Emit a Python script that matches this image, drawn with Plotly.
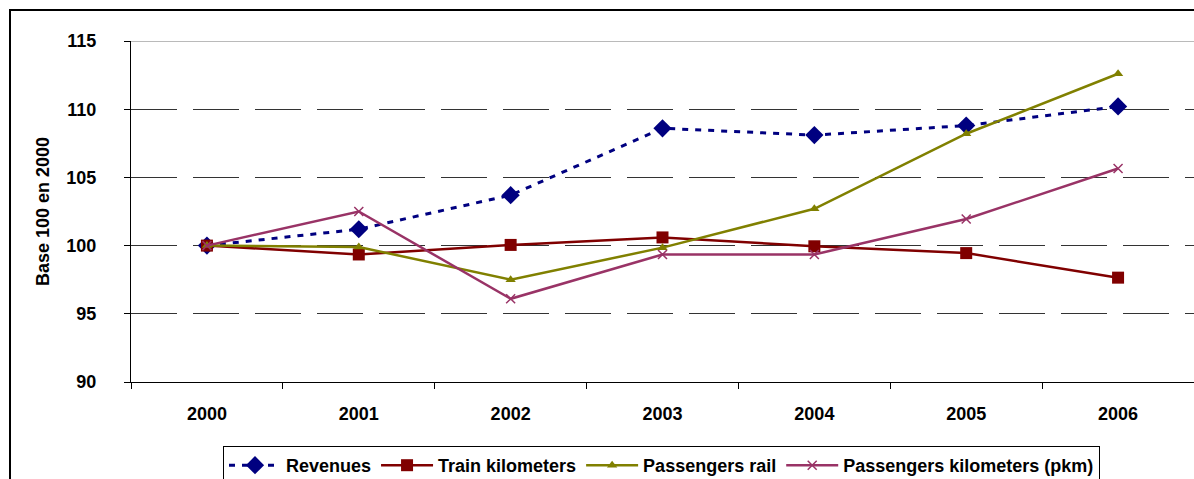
import plotly.graph_objects as go

years = ["2000", "2001", "2002", "2003", "2004", "2005", "2006"]
revenues = [100.0, 101.2, 103.7, 108.6, 108.1, 108.8, 110.2]
train_km = [100.0, 99.35, 100.05, 100.6, 99.95, 99.45, 97.65]
passengers_rail = [100.0, 99.9, 97.5, 99.85, 102.7, 108.2, 112.6]
passengers_km = [100.0, 102.5, 96.1, 99.35, 99.35, 101.95, 105.65]
y_ticks = [90, 95, 100, 105, 110, 115]

FONT = "Liberation Sans, Arial, sans-serif"

fig = go.Figure()
fig.add_trace(go.Scatter(
    x=years, y=revenues, name="Revenues", mode="lines+markers",
    line=dict(color="#000080", width=3, dash="6px,7px"),
    marker=dict(symbol="diamond", size=14, color="#000080"),
))
fig.add_trace(go.Scatter(
    x=years, y=train_km, name="Train kilometers", mode="lines+markers",
    line=dict(color="#800000", width=2.5),
    marker=dict(symbol="square", size=12, color="#800000"),
))
fig.add_trace(go.Scatter(
    x=years, y=passengers_rail, name="Passengers rail", mode="lines+markers",
    line=dict(color="#808000", width=2.5),
    marker=dict(symbol="triangle-up", size=9, color="#808000"),
))
fig.add_trace(go.Scatter(
    x=years, y=passengers_km, name="Passengers kilometers (pkm)", mode="lines+markers",
    line=dict(color="#993366", width=2.5),
    marker=dict(symbol="x-thin", size=9, line=dict(color="#993366", width=1.5)),
))

plot_left, plot_top, plot_bottom = 131, 41, 382
W, H = 1194, 479
pw = W - plot_left
ph = plot_bottom - plot_top

def px(xp):
    return (xp - plot_left) / pw

def py(yp):
    return (plot_bottom - yp) / ph

fig.update_layout(
    width=W, height=H,
    margin=dict(l=plot_left, r=0, t=plot_top, b=H - plot_bottom, autoexpand=False),
    paper_bgcolor="white", plot_bgcolor="white",
    font=dict(family=FONT, color="black"),
    showlegend=True,
    legend=dict(
        orientation="h", x=px(223), y=py(446), xanchor="left", yanchor="top",
        bordercolor="black", borderwidth=1, bgcolor="white",
        font=dict(family=FONT, size=18, color="black", weight="bold"),
        itemwidth=52, tracegroupgap=0,
    ),
    xaxis=dict(
        type="category", range=[-0.5, 6.5], automargin=False,
        showline=True, linecolor="black", linewidth=1,
        ticks="outside", tickson="boundaries", ticklen=6, tickcolor="black",
        tickfont=dict(family=FONT, size=18, weight="bold"),
        ticklabelstandoff=15,
        showgrid=False, zeroline=False,
    ),
    yaxis=dict(
        range=[90, 115], tickvals=y_ticks, automargin=False,
        showline=True, linecolor="black", linewidth=1,
        ticks="outside", ticklen=6, tickcolor="black",
        tickfont=dict(family=FONT, size=18, weight="bold"),
        ticklabelstandoff=24,
        showgrid=True, gridcolor="#333333", gridwidth=1, griddash="46px,16px",
        zeroline=False,
        title=dict(text="Base 100 en 2000", font=dict(family=FONT, size=18, weight="bold"), standoff=12),
    ),
    shapes=[
        dict(type="rect", xref="paper", yref="paper",
             x0=px(10), x1=px(1230), y0=py(520), y1=py(10),
             line=dict(color="black", width=2), fillcolor="rgba(0,0,0,0)", layer="below"),
        dict(type="line", xref="paper", yref="y", x0=0, x1=1, y0=115, y1=115,
             line=dict(color="#777777", width=1), layer="below"),
    ],
)

fig.write_html(
    "out.html",
    config={"displayModeBar": False},
    post_script="document.body.style.margin='0';document.body.style.overflow='hidden';",
)
